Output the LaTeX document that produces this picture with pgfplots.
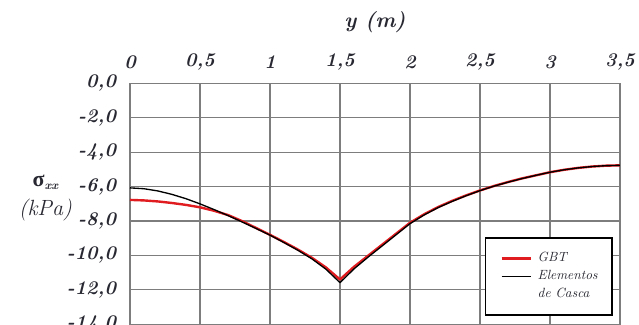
\documentclass[border=0pt]{standalone}
\usepackage{fontspec}
\newfontfamily\greekfont{Liberation Serif}
\usepackage{pgfplots}
\usepackage{pgfplotstable}
\pgfplotsset{compat=1.18}

\definecolor{gbtred}{RGB}{225,28,32}
\definecolor{gridgray}{RGB}{125,125,125}
\definecolor{labelink}{RGB}{40,40,50}

% Normal stress sigma_xx along y: GBT solution
\pgfplotstableread{
y    s
0.0  -6.77
0.1  -6.80
0.2  -6.86
0.3  -6.95
0.4  -7.06
0.5  -7.20
0.6  -7.40
0.7  -7.65
0.8  -8.00
0.9  -8.40
1.0  -8.80
1.1  -9.22
1.2  -9.66
1.3  -10.14
1.4  -10.70
1.5  -11.40
1.6  -10.66
1.7  -10.02
1.8  -9.38
1.9  -8.74
2.0  -8.10
2.1  -7.61
2.2  -7.19
2.3  -6.83
2.4  -6.51
2.5  -6.22
2.6  -5.96
2.7  -5.73
2.8  -5.52
2.9  -5.34
3.0  -5.16
3.1  -5.02
3.2  -4.91
3.3  -4.83
3.4  -4.78
3.5  -4.76
}\gbt

% Normal stress sigma_xx along y: shell finite elements
\pgfplotstableread{
y    s
0.0  -6.07
0.1  -6.12
0.2  -6.25
0.3  -6.45
0.4  -6.70
0.5  -7.00
0.6  -7.33
0.7  -7.68
0.8  -8.05
0.9  -8.43
1.0  -8.82
1.1  -9.25
1.2  -9.70
1.3  -10.20
1.4  -10.80
1.5  -11.58
1.6  -10.78
1.7  -10.10
1.8  -9.45
1.9  -8.80
2.0  -8.15
2.1  -7.65
2.2  -7.22
2.3  -6.86
2.4  -6.53
2.5  -6.23
2.6  -5.97
2.7  -5.74
2.8  -5.53
2.9  -5.34
3.0  -5.16
3.1  -5.02
3.2  -4.91
3.3  -4.83
3.4  -4.78
3.5  -4.76
}\casca

\begin{document}
\begin{tikzpicture}
\begin{axis}[
  scale only axis,
  width=367.5pt, height=180.6pt,
  xmin=0, xmax=3.5, ymin=-14, ymax=0,
  xtick={0,0.5,1,1.5,2,2.5,3,3.5},
  xticklabels={0,{0,5},1,{1,5},2,{2,5},3,{3,5}},
  ytick={-14,-12,-10,-8,-6,-4,-2,0},
  yticklabels={{-14,0},{-12,0},{-10,0},{-8,0},{-6,0},{-4,0},{-2,0},{0,0}},
  xticklabel pos=upper,
  major tick length=0pt,
  grid=major,
  grid style={gridgray, line width=0.95pt},
  axis line style={gridgray, line width=0.95pt},
  tick label style={font=\fontsize{14.5}{16}\selectfont\bfseries\itshape, text=labelink},
  xticklabel style={anchor=center, yshift=16pt},
  yticklabel style={anchor=east, xshift=-7pt},
  xlabel={y (m)},
  every axis x label/.style={at={(rel axis cs:0.5,1)}, anchor=center, yshift=46pt,
    font=\fontsize{16}{18}\selectfont\bfseries\itshape, text=labelink},
  ylabel={{\greekfont\bfseries σ}\raisebox{-0.35ex}{\fontsize{9}{10}\selectfont\bfseries\itshape xx}\\[2pt]\itshape (kPa)},
  every axis y label/.style={at={(rel axis cs:0,0.525)}, anchor=center, xshift=-63.5pt,
    align=center, font=\fontsize{16.5}{20}\selectfont, text=labelink},
  legend cell align=left,
  legend image code/.code={\draw[#1] (0pt,0pt) -- (21.75pt,0pt);},
  legend style={at={(rel axis cs:1,0)}, anchor=south east, xshift=-5.25pt, yshift=6.2pt,
    draw=black, line width=1.2pt, fill=white,
    font=\fontsize{10}{12}\selectfont\itshape, text=labelink,
    inner xsep=11pt, inner ysep=11pt, row sep=4.5pt, column sep=4.5pt,
    nodes={inner sep=0pt, text height=7pt, text depth=2pt}},
]
\addplot[gbtred, line width=1.8pt, line join=round] table[x=y, y=s] {\gbt};
\addlegendentry{GBT}
\addplot[black, line width=1pt, line join=round] table[x=y, y=s] {\casca};
\addlegendentry{Elementos}
\addlegendimage{empty legend}
\addlegendentry{de Casca}
\coordinate (SW) at (rel axis cs:0,0);
\coordinate (NE) at (rel axis cs:1,1);
\end{axis}
\pgfresetboundingbox
\path[use as bounding box] ([xshift=-97.5pt,yshift=-0.5pt]SW) rectangle ([xshift=14.25pt,yshift=62.6pt]NE);
\end{tikzpicture}
\end{document}
